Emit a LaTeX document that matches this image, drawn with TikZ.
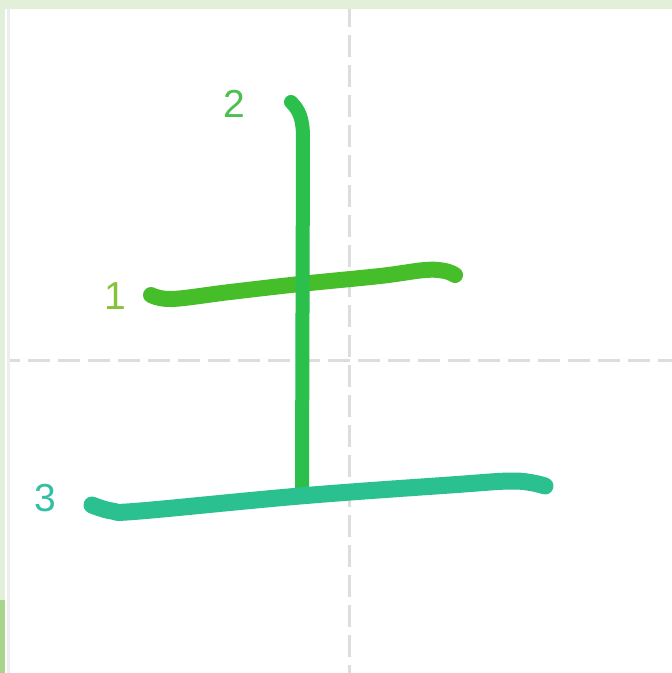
\documentclass[tikz,border=0pt]{standalone}
\usepackage{fontspec}
\setmainfont{Liberation Sans}
\usepackage{xcolor}
\usepackage{tikz}

\definecolor{bandgreen}{HTML}{E2EFD9}
\definecolor{tabgreen}{HTML}{A9D48B}
\definecolor{gridgray}{HTML}{DDDDDD}
\definecolor{edgegray}{HTML}{EDEDED}
\definecolor{strokeone}{HTML}{46BE2A}
\definecolor{stroketwo}{HTML}{2BBF4C}
\definecolor{strokethree}{HTML}{2BC08F}
\definecolor{numone}{HTML}{86C23A}
\definecolor{numtwo}{HTML}{4CC04E}
\definecolor{numthree}{HTML}{33BFA2}

\begin{document}
\begin{tikzpicture}[
    x=1pt, y=-1pt,
    guide/.style={draw=gridgray, line width=3pt, dash pattern=on 22pt off 8pt},
    brush/.style={line width=16pt, line cap=round, line join=round},
    num/.style={font=\fontsize{39}{39}\selectfont, inner sep=0pt}
]
\useasboundingbox (0,0) rectangle (672,673);
\fill[white] (0,0) rectangle (672,673);

% frame of the sheet
\fill[bandgreen] (0,0) rectangle (672,9);
\fill[bandgreen] (0,9) rectangle (5,600);
\fill[tabgreen] (0,600) rectangle (5,673);
\draw[edgegray, line width=2.5pt] (8.5,9) -- (8.5,673);

% guide lines
\draw[guide, dash phase=4pt] (349,9) -- (349,673);
\draw[guide, dash phase=12pt] (10,360) -- (672,360);

% strokes
\draw[brush, strokeone] plot[smooth, tension=0.6] coordinates
    {(151,295) (172,299) (230,292) (300,284) (380,276) (425,270) (445,271) (455,275)};
\draw[brush, stroketwo, line width=14pt]
    (291,102) .. controls (299,110) and (303,118) .. (303,138) -- (302,487);
\draw[brush, strokethree, line width=17pt] plot[smooth, tension=0.6] coordinates
    {(92,505) (112,511) (140,511) (300,496) (450,485) (515,481) (545,486)};

% stroke numbers
\node[num, text=numone] (n1) at (115,296) {1};
\node[num, text=numtwo] (n2) at (234,104) {2};
\node[num, text=numthree] (n3) at (45,498) {3};
\end{tikzpicture}
\end{document}
